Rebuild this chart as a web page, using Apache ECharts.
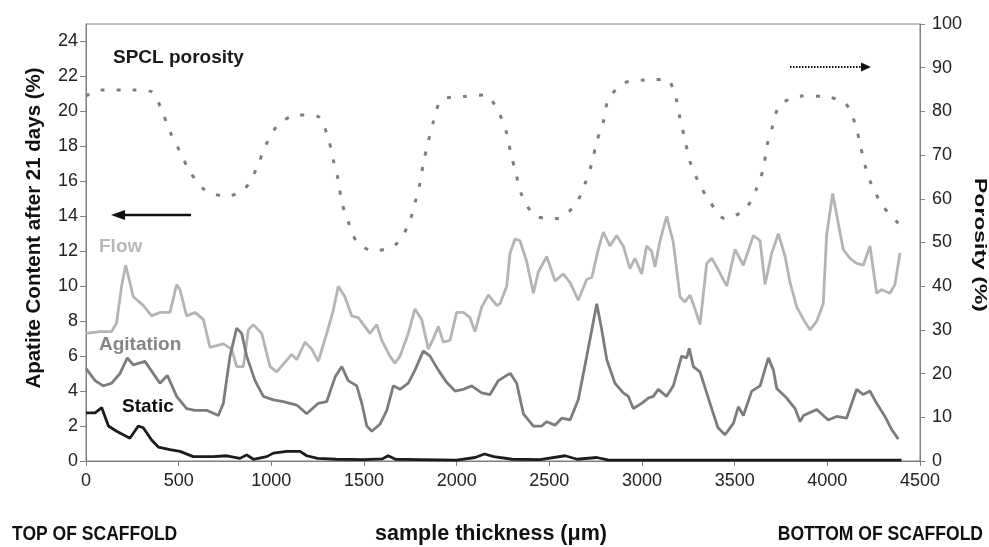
<!DOCTYPE html>
<html>
<head>
<meta charset="utf-8">
<script src="https://cdn.jsdelivr.net/npm/echarts@6/dist/echarts.min.js"></script>
<style>
  html, body { margin: 0; padding: 0; background: #fff; }
  #chart { width: 989px; height: 547px; }
</style>
</head>
<body>
<div id="chart"></div>
<script>
// sample thickness (um) -> apatite content (%)
const flow = [
  [0, 7.3], [75, 7.4], [138, 7.4], [165, 7.9], [192, 10.0], [214, 11.2], [237, 10.2], [255, 9.4],
  [309, 8.9], [354, 8.3], [399, 8.5], [453, 8.5], [489, 10.1], [507, 9.8], [543, 8.3], [588, 8.5],
  [633, 8.1], [669, 6.5], [741, 6.7], [786, 6.4], [813, 5.4], [849, 5.4], [876, 7.5], [903, 7.8],
  [948, 7.3], [993, 5.4], [1029, 5.1], [1110, 6.1], [1137, 5.8], [1182, 6.8], [1218, 6.4], [1253, 5.7],
  [1299, 7.3], [1334, 8.6], [1361, 10.0], [1397, 9.4], [1434, 8.3], [1469, 8.2], [1532, 7.3], [1569, 7.8],
  [1596, 6.9], [1640, 6.0], [1667, 5.6], [1694, 6.0], [1739, 7.3], [1775, 8.7], [1811, 8.1], [1847, 6.4],
  [1874, 7.0], [1901, 7.7], [1928, 6.8], [1964, 6.9], [2000, 8.5], [2036, 8.5], [2072, 8.2], [2099, 7.4],
  [2135, 8.8], [2171, 9.5], [2216, 8.9], [2234, 9.0], [2270, 10.0], [2288, 11.9], [2315, 12.7], [2342, 12.6],
  [2378, 11.4], [2414, 9.6], [2440, 10.8], [2486, 11.7], [2531, 10.3], [2575, 10.7], [2612, 10.2], [2656, 9.2],
  [2702, 10.4], [2729, 10.5], [2764, 12.1], [2791, 13.1], [2827, 12.3], [2863, 12.9], [2899, 12.3], [2935, 11.0],
  [2962, 11.6], [2998, 10.7], [3025, 12.3], [3052, 12.0], [3070, 11.1], [3097, 12.6], [3133, 14.0], [3169, 12.5],
  [3205, 9.4], [3232, 9.1], [3259, 9.5], [3286, 8.7], [3313, 7.8], [3349, 11.3], [3376, 11.6], [3403, 11.1],
  [3457, 10.0], [3502, 12.1], [3547, 11.2], [3601, 12.9], [3637, 12.6], [3664, 10.1], [3700, 11.9], [3736, 13.0],
  [3772, 11.7], [3799, 10.2], [3835, 8.8], [3871, 8.1], [3907, 7.5], [3943, 8.0], [3978, 9.0], [3996, 12.9],
  [4029, 15.3], [4059, 13.6], [4086, 12.1], [4122, 11.6], [4158, 11.3], [4194, 11.2], [4230, 12.3], [4266, 9.6],
  [4293, 9.8], [4338, 9.6], [4365, 10.1], [4392, 11.9]
];

const agitation = [
  [0, 5.3], [49, 4.6], [93, 4.3], [138, 4.45], [183, 5.0], [223, 5.9], [255, 5.5], [318, 5.7],
  [399, 4.45], [439, 4.9], [489, 3.7], [543, 3.0], [588, 2.9], [651, 2.9], [714, 2.6], [741, 3.3],
  [777, 6.0], [813, 7.6], [840, 7.3], [867, 6.0], [912, 4.6], [957, 3.7], [1011, 3.5], [1065, 3.4],
  [1101, 3.3], [1137, 3.2], [1191, 2.7], [1253, 3.3], [1299, 3.4], [1344, 4.8], [1380, 5.4], [1415, 4.6],
  [1461, 4.3], [1488, 3.3], [1515, 2.0], [1542, 1.7], [1586, 2.1], [1623, 2.9], [1658, 4.3], [1694, 4.1],
  [1739, 4.45], [1775, 5.2], [1820, 6.3], [1856, 6.0], [1901, 5.2], [1946, 4.5], [1991, 4.0], [2036, 4.1],
  [2081, 4.3], [2135, 3.9], [2180, 3.8], [2225, 4.6], [2270, 4.9], [2290, 5.0], [2324, 4.45], [2360, 2.7],
  [2414, 2.0], [2459, 2.0], [2486, 2.25], [2531, 2.05], [2567, 2.45], [2612, 2.35], [2656, 3.5], [2702, 6.0],
  [2756, 9.0], [2783, 7.5], [2810, 5.8], [2854, 4.45], [2899, 3.9], [2926, 3.7], [2953, 3.0], [2998, 3.3],
  [3034, 3.6], [3061, 3.7], [3088, 4.1], [3133, 3.7], [3169, 4.3], [3214, 6.0], [3241, 5.9], [3255, 6.45],
  [3277, 5.4], [3313, 5.1], [3349, 3.9], [3385, 2.7], [3410, 1.9], [3448, 1.5], [3493, 2.15], [3520, 3.1],
  [3547, 2.6], [3592, 4.0], [3637, 4.3], [3682, 5.9], [3709, 5.2], [3727, 4.15], [3781, 3.6], [3826, 3.0],
  [3853, 2.25], [3871, 2.6], [3943, 2.95], [4005, 2.35], [4050, 2.55], [4104, 2.45], [4158, 4.1], [4194, 3.8],
  [4230, 4.0], [4266, 3.3], [4311, 2.55], [4347, 1.8], [4383, 1.25]
];

const staticData = [
  [0, 2.75], [49, 2.75], [85, 3.05], [121, 2.0], [165, 1.7], [237, 1.3], [282, 2.0], [309, 1.9],
  [354, 1.2], [390, 0.8], [453, 0.65], [507, 0.55], [579, 0.25], [687, 0.25], [759, 0.3], [831, 0.15],
  [867, 0.35], [903, 0.1], [975, 0.25], [1011, 0.45], [1083, 0.55], [1155, 0.55], [1191, 0.3], [1250, 0.15],
  [1350, 0.1], [1500, 0.08], [1600, 0.12], [1630, 0.3], [1670, 0.1], [1800, 0.08], [2000, 0.05], [2100, 0.2],
  [2150, 0.4], [2200, 0.25], [2300, 0.1], [2450, 0.08], [2585, 0.3], [2650, 0.1], [2756, 0.2], [2820, 0.05],
  [3000, 0.05], [3500, 0.05], [4000, 0.05], [4400, 0.05]
];

// sample thickness (um) -> SPCL porosity (%)
const porosity = [
  [0, 83.5], [76, 84.9], [255, 84.9], [354, 84.5], [408, 80.3], [453, 75.4], [507, 70.8], [561, 66.2],
  [642, 62], [759, 60.6], [858, 62.4], [921, 67], [966, 71.9], [1029, 76.5], [1137, 79.2], [1253, 78.8],
  [1307, 73.8], [1334, 68.9], [1361, 64.3], [1380, 59.3], [1415, 54.8], [1461, 50.2], [1550, 48.1], [1667, 49.4],
  [1739, 54], [1775, 59], [1802, 63.5], [1820, 68.1], [1847, 73.1], [1874, 77.6], [1919, 82.6], [2036, 83.4],
  [2153, 83.75], [2225, 79.9], [2270, 75], [2292, 70.4], [2320, 65.8], [2351, 60.9], [2432, 55.9], [2540, 55.5],
  [2639, 58.6], [2693, 63.5], [2729, 68.1], [2756, 73.1], [2791, 77.6], [2818, 82.6], [2899, 86.4], [3016, 87.2],
  [3133, 87.3], [3183, 83], [3205, 78.4], [3232, 73.5], [3259, 68.5], [3304, 63.9], [3367, 59.3], [3448, 55.5],
  [3556, 57.6], [3619, 62.4], [3655, 67], [3673, 71.9], [3705, 76.7], [3745, 81.5], [3862, 83.5], [3978, 83.4],
  [4095, 81.9], [4149, 77.3], [4176, 72.7], [4203, 67.7], [4239, 63.2], [4302, 58.2], [4383, 54.4]
];

const font = 'Liberation Sans, Arial, sans-serif';
const axisColor = '#7f7f7f';

const chart = echarts.init(document.getElementById('chart'));
chart.setOption({
  backgroundColor: '#fff',
  animation: false,
  textStyle: { fontFamily: font },
  grid: {
    left: 86, right: 69, top: 24, bottom: 86,
    outerBoundsMode: 'none',
    containLabel: false,
    show: true, borderColor: axisColor, borderWidth: 1
  },
  xAxis: {
    type: 'value',
    min: 0, max: 4500, interval: 500,
    axisLine: { lineStyle: { color: axisColor } },
    axisTick: { length: 5, lineStyle: { color: axisColor } },
    axisLabel: { fontSize: 18, color: '#222', margin: 11, formatter: v => String(v) },
    splitLine: { show: false }
  },
  yAxis: [
    {
      type: 'value',
      min: 0, max: 25, interval: 2,
      axisLine: { show: true, lineStyle: { color: axisColor } },
      axisTick: { show: true, length: 6, lineStyle: { color: axisColor } },
      axisLabel: { fontSize: 18, color: '#222', margin: 8, showMaxLabel: false },
      splitLine: { show: false }
    },
    {
      type: 'value',
      min: 0, max: 100, interval: 10,
      position: 'right',
      axisLine: { show: true, lineStyle: { color: axisColor } },
      axisTick: { show: true, length: 5, lineStyle: { color: axisColor } },
      axisLabel: { fontSize: 18, color: '#222', margin: 12 },
      splitLine: { show: false }
    }
  ],
  series: [
    {
      name: 'SPCL porosity', type: 'line', yAxisIndex: 1, data: porosity,
      smooth: 0.3, showSymbol: false,
      lineStyle: { color: '#7d7d7d', width: 3, type: [4, 12] }
    },
    {
      name: 'Flow', type: 'line', data: flow, showSymbol: false,
      lineStyle: { color: '#b4b4b4', width: 2.8 }
    },
    {
      name: 'Agitation', type: 'line', data: agitation, showSymbol: false,
      lineStyle: { color: '#7c7c7c', width: 2.8 }
    },
    {
      name: 'Static', type: 'line', data: staticData, showSymbol: false,
      lineStyle: { color: '#1c1c1c', width: 2.8 }
    }
  ],
  graphic: [
    // axis titles
    {
      type: 'text', x: 34, y: 228, rotation: Math.PI / 2,
      style: { text: 'Apatite Content after 21 days (%)', font: 'bold 20.5px ' + font, fill: '#111', align: 'center', verticalAlign: 'middle' }
    },
    {
      type: 'text', x: 980, y: 245, rotation: -Math.PI / 2, scaleX: 1.35,
      style: { text: 'Porosity (%)', font: 'bold 17px ' + font, fill: '#111', align: 'center', verticalAlign: 'middle' }
    },
    {
      type: 'text', x: 491, y: 534,
      style: { text: 'sample thickness (\u03bcm)', font: 'bold 21.5px ' + font, fill: '#111', align: 'center', verticalAlign: 'middle' }
    },
    {
      type: 'text', x: 12, y: 534, scaleX: 0.835,
      style: { text: 'TOP OF SCAFFOLD', font: 'bold 21px ' + font, fill: '#111', align: 'left', verticalAlign: 'middle' }
    },
    {
      type: 'text', x: 983, y: 534, scaleX: 0.835,
      style: { text: 'BOTTOM OF SCAFFOLD', font: 'bold 21px ' + font, fill: '#111', align: 'right', verticalAlign: 'middle' }
    },
    // series captions inside the plot
    { type: 'text', x: 113, y: 58, style: { text: 'SPCL porosity', font: 'bold 19px ' + font, fill: '#1a1a1a', verticalAlign: 'middle' } },
    { type: 'text', x: 99, y: 247, style: { text: 'Flow', font: 'bold 19px ' + font, fill: '#b8b8b8', verticalAlign: 'middle' } },
    { type: 'text', x: 99, y: 345, style: { text: 'Agitation', font: 'bold 19px ' + font, fill: '#858585', verticalAlign: 'middle' } },
    { type: 'text', x: 122, y: 407, style: { text: 'Static', font: 'bold 19px ' + font, fill: '#111', verticalAlign: 'middle' } },
    // solid arrow pointing to the left axis
    { type: 'line', shape: { x1: 122, y1: 215, x2: 191, y2: 215 }, style: { stroke: '#111', lineWidth: 2.5 } },
    { type: 'polygon', shape: { points: [[111, 215], [125, 210], [125, 220]] }, style: { fill: '#111' } },
    // dotted arrow pointing to the right axis
    { type: 'line', shape: { x1: 790, y1: 67, x2: 862, y2: 67 }, style: { stroke: '#111', lineWidth: 2, lineDash: [1.5, 1.5] } },
    { type: 'polygon', shape: { points: [[871, 67], [861, 62.5], [861, 71.5]] }, style: { fill: '#111' } }
  ]
});
</script>
</body>
</html>
